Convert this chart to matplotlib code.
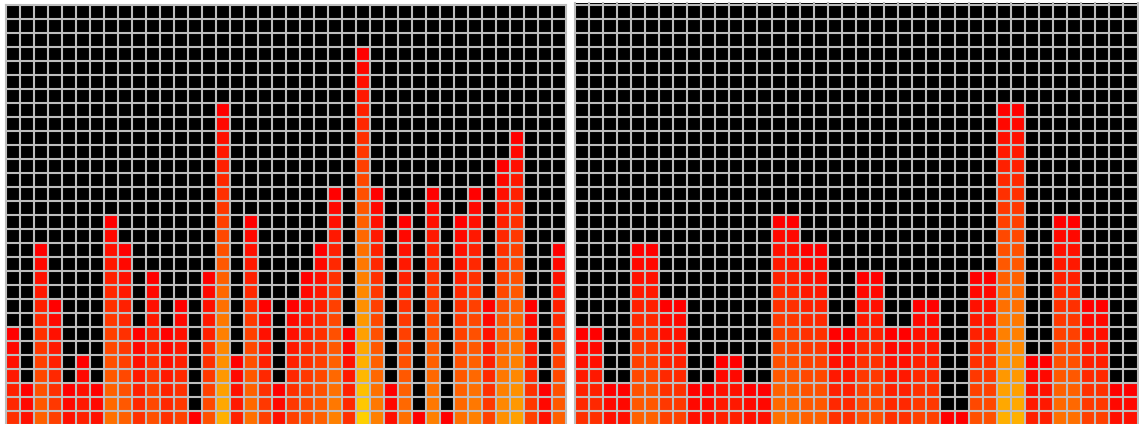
import numpy as np
import matplotlib
matplotlib.use('Agg')
import matplotlib.pyplot as plt

# bar heights (cells lit from the bottom)
left_heights = [7, 3, 13, 9, 3, 5, 3, 15, 13, 7, 11, 7, 9, 1, 11, 23, 5, 15, 9, 3,
                9, 11, 13, 17, 7, 27, 17, 3, 15, 1, 17, 1, 15, 17, 9, 19, 21, 9, 3, 13]
# right panel: first 20 bands, each drawn two cells wide
right_heights = [7, 3, 13, 9, 3, 5, 3, 15, 13, 7, 11, 7, 9, 1, 11, 23, 5, 15, 9, 3]

n_rows = 30
grid_color = '#bdbdbd'


def make_image(heights):
    heights = np.asarray(heights)
    n_cols = len(heights)
    img = np.zeros((n_rows, n_cols, 3))
    cmap = plt.get_cmap('autumn')
    for c, h in enumerate(heights):
        for r in range(h):
            d = h - 1 - r  # distance from top of the bar
            img[r, c] = cmap(d / 32.0)[:3]
    return img


def draw_panel(ax, img, top_pad=0.0):
    n_cols = img.shape[1]
    ax.set_facecolor('black')
    ax.imshow(img, origin='lower', extent=(0, n_cols, 0, n_rows),
              aspect='auto', interpolation='nearest')
    for x in range(n_cols + 1):
        ax.axvline(x, color=grid_color, lw=1.5, clip_on=False)
    for y in range(n_rows + 1):
        ax.axhline(y, color=grid_color, lw=1.5, clip_on=False)
    ax.set_xlim(0, n_cols)
    ax.set_ylim(0, n_rows + top_pad)
    ax.set_xticks([])
    ax.set_yticks([])
    for s in ax.spines.values():
        s.set_visible(False)


W, H = 1139, 424
fig = plt.figure(figsize=(W / 100, H / 100), dpi=100)
fig.patch.set_facecolor('white')

# left panel
ax1 = fig.add_axes([5.5 / W, -1 / H, 560 / W, 420 / H])
draw_panel(ax1, make_image(left_heights))

# right panel (zoomed, with a thin black strip on top)
ax2 = fig.add_axes([574.5 / W, -1 / H, 563 / W, 422 / H])
draw_panel(ax2, make_image(np.repeat(right_heights, 2)), top_pad=30 * 2 / 420)

fig.savefig('out.png', dpi=100)
